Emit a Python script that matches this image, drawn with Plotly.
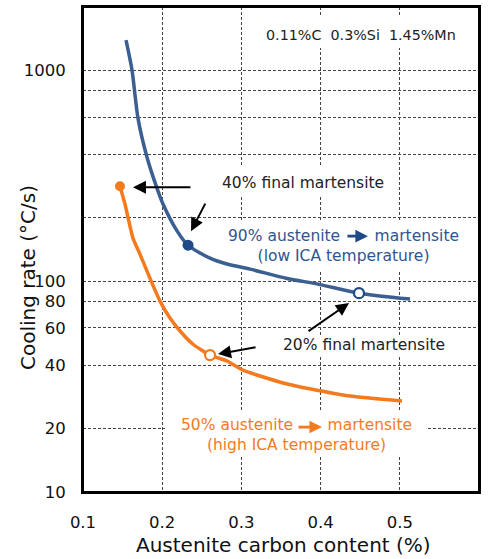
import plotly.graph_objects as go

# ---- data ----
blue_x = [0.1543, 0.1619, 0.1694, 0.1808, 0.1934, 0.201, 0.2187, 0.2326, 0.2604, 0.2818, 0.311, 0.3576, 0.3967, 0.4485, 0.5129]
blue_y = [1388, 1000, 593, 387, 276, 232, 173, 148, 128.5, 120.5, 114, 103, 96.8, 87.7, 82.2]
orange_x = [0.1467, 0.1530, 0.1631, 0.1720, 0.1846, 0.1972, 0.2098, 0.2225, 0.2389, 0.2604, 0.2818, 0.3020, 0.3525, 0.3955, 0.4371, 0.5028]
orange_y = [282, 232, 160, 134, 103, 80.4, 66.8, 58.0, 50.2, 44.6, 41.8, 37.8, 32.9, 30.4, 28.5, 27.0]

blue_solid = (0.2326, 148)
blue_open = (0.4485, 87.7)
orange_solid = (0.1467, 282)
orange_open = (0.2604, 44.6)

x_ticks = [0.1, 0.2, 0.3, 0.4, 0.5, 0.6]
y_grid = [10, 20, 40, 60, 80, 100, 200, 400, 600, 800, 1000]
y_labels = ["10", "20", "40", "60", "80", "100", "", "", "", "", "1000"]

BLUE = "#3A5F90"
BLUE_DARK = "#1F4A85"
BLUE_TXT = "#2F5590"
ORANGE = "#F47A1F"
FONT = "DejaVu Sans"

# plot area in pixels (for paper-coordinate helpers)
PL, PR, PT, PB = 83, 479, 7, 492
def px(xp):
    return (xp - PL) / (PR - PL)
def py(yp):
    return (PB - yp) / (PB - PT)
def dx(xp):
    return 0.1 + 0.5 * px(xp)
def dy(yp):
    return 10 ** (1 + 2.3 * py(yp))

fig = go.Figure()
fig.add_trace(go.Scatter(x=blue_x, y=blue_y, mode="lines",
                         line=dict(color=BLUE, width=3.5, shape="spline", smoothing=0.7),
                         hoverinfo="skip"))
fig.add_trace(go.Scatter(x=orange_x, y=orange_y, mode="lines",
                         line=dict(color=ORANGE, width=3.5, shape="spline", smoothing=0.5),
                         hoverinfo="skip"))
fig.add_trace(go.Scatter(x=[blue_solid[0]], y=[blue_solid[1]], mode="markers",
                         marker=dict(color=BLUE_DARK, size=11, line=dict(width=0))))
fig.add_trace(go.Scatter(x=[blue_open[0]], y=[blue_open[1]], mode="markers",
                         marker=dict(color="white", size=10, line=dict(width=2.2, color=BLUE_DARK))))
fig.add_trace(go.Scatter(x=[orange_solid[0]], y=[orange_solid[1]], mode="markers",
                         marker=dict(color=ORANGE, size=10, line=dict(width=0))))
fig.add_trace(go.Scatter(x=[orange_open[0]], y=[orange_open[1]], mode="markers",
                         marker=dict(color="white", size=10, line=dict(width=2.2, color=ORANGE))))

# white boxes behind the labels (hide gridlines, stay under the curves)
boxes = [(256, 17, 468, 48), (214, 165, 393, 195), (224, 220, 464, 271),
         (276, 335, 452, 355), (165, 412, 427, 455)]
shapes = [dict(type="rect", xref="x", yref="y", x0=dx(a), x1=dx(c), y0=dy(d), y1=dy(b),
               fillcolor="white", line=dict(width=0), layer="between") for a, b, c, d in boxes]
# plot frame
shapes.append(dict(type="rect", xref="paper", yref="paper", x0=0, x1=1, y0=0, y1=1,
                   line=dict(color="black", width=2), fillcolor="rgba(0,0,0,0)", layer="above"))

anns = []
SZ = 15.5
anns.append(dict(x=0.451, y=3.166, text="0.11%C\u00a0\u00a00.3%Si\u00a0\u00a01.45%Mn", showarrow=False,
                 font=dict(family=FONT, size=14.3, color="#222")))
anns.append(dict(x=0.3778, y=2.4645, text="40% final martensite", showarrow=False,
                 font=dict(family=FONT, size=SZ, color="#222")))
anns.append(dict(x=0.4295, y=2.168,
                 text="90% austenite\u00a0\u00a0\u00a0\u00a0\u00a0\u00a0\u00a0martensite<br>(low ICA temperature)",
                 showarrow=False, font=dict(family=FONT, size=SZ, color=BLUE_TXT)))
anns.append(dict(x=0.4548, y=1.6967, text="20% final martensite", showarrow=False,
                 font=dict(family=FONT, size=SZ, color="#222")))
anns.append(dict(x=0.369, y=1.270,
                 text="50% austenite\u00a0\u00a0\u00a0\u00a0\u00a0\u00a0\u00a0martensite<br>(high ICA temperature)",
                 showarrow=False, font=dict(family=FONT, size=SZ, color=ORANGE)))
# pointer arrows
arrow_common = dict(showarrow=True, arrowhead=2, arrowsize=1.3, arrowwidth=2, arrowcolor="black", text="")
anns.append(dict(x=0.1631, y=2.4455, ax=59, ay=0, **arrow_common))
anns.append(dict(x=0.2364, y=2.237, ax=15, ay=-29, **arrow_common))
anns.append(dict(x=0.4359, y=1.8957, ax=-42, ay=29, **arrow_common))
anns.append(dict(x=0.2705, y=1.654, ax=39, ay=-7, **arrow_common))
# in-text arrows
anns.append(dict(x=0.4598, y=2.2133, ax=-22, ay=0, showarrow=True, arrowhead=2, arrowsize=0.9,
                 arrowwidth=2.8, arrowcolor=BLUE_DARK, text=""))
anns.append(dict(x=0.4018, y=1.308, ax=-25, ay=0, showarrow=True, arrowhead=2, arrowsize=0.9,
                 arrowwidth=2.8, arrowcolor=ORANGE, text=""))
# axis titles
anns.append(dict(xref="paper", yref="paper", x=px(28), y=py(278), xanchor="center", yanchor="middle",
                 text="Cooling rate (°C/s)", textangle=-90, showarrow=False,
                 font=dict(family=FONT, size=20, color="#111")))
anns.append(dict(xref="paper", yref="paper", x=px(283), y=py(545), xanchor="center", yanchor="middle",
                 text="Austenite carbon content (%)", showarrow=False,
                 font=dict(family=FONT, size=20, color="#111")))

fig.update_layout(
    width=492, height=559,
    margin=dict(l=PL, r=492 - PR, t=PT, b=559 - PB),
    paper_bgcolor="white", plot_bgcolor="white",
    showlegend=False,
    annotations=anns, shapes=shapes,
    font=dict(family=FONT, color="#111"),
)
fig.update_xaxes(range=[0.1, 0.60001], tickvals=x_ticks, ticktext=[f"{v:.1f}" for v in x_ticks],
                 showgrid=True, gridcolor="#444", griddash="3px,2px", gridwidth=1,
                 showline=True, mirror=True, linecolor="black", linewidth=2,
                 ticks="", ticklabelstandoff=14, zeroline=False, automargin=False,
                 tickfont=dict(family=FONT, size=16.5, color="#111"))
fig.update_yaxes(type="log", range=[1, 3.3], tickvals=y_grid, ticktext=y_labels,
                 showgrid=True, gridcolor="#444", griddash="3px,2px", gridwidth=1,
                 showline=True, mirror=True, linecolor="black", linewidth=2,
                 ticks="", ticklabelstandoff=12, zeroline=False, automargin=False,
                 tickfont=dict(family=FONT, size=16.5, color="#111"))

post = ("document.documentElement.style.margin='0';document.body.style.margin='0';"
        "document.documentElement.style.overflow='hidden';document.body.style.overflow='hidden';")
fig.write_html("out.html", post_script=post)
